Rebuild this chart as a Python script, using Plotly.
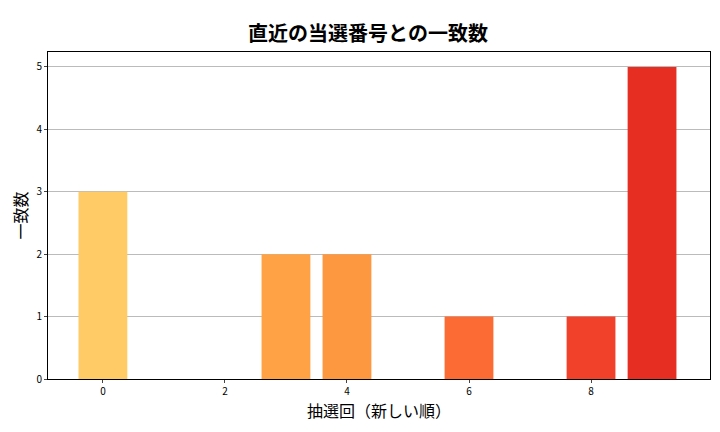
import plotly.graph_objects as go

draws = [0, 1, 2, 3, 4, 5, 6, 7, 8, 9]
matches = [3, 0, 0, 2, 2, 0, 1, 0, 1, 5]
colors = ["#fecb67", "#feb852", "#feab4a", "#fea245", "#fd9740", "#fd8139",
          "#fc6b33", "#f9552e", "#f1412a", "#e62f22"]
xticks = [0, 2, 4, 6, 8]
yticks = [0, 1, 2, 3, 4, 5]

font = "Noto Sans CJK JP"
fig = go.Figure(go.Bar(x=draws, y=matches, marker=dict(color=colors, line=dict(width=0)), width=0.8))
fig.update_layout(
    width=720, height=432, plot_bgcolor="white", paper_bgcolor="white",
    margin=dict(l=40, r=18, t=44, b=61), showlegend=False,
    font=dict(family=font, color="black"),
    title=dict(text="<b>直近の当選番号との一致数</b>", x=0.5, xanchor="center", y=0.955,
               font=dict(size=20, family=font)),
)
fig.update_xaxes(range=[-0.9, 9.95], tickvals=xticks, ticks="outside", ticklen=3,
                 tickfont=dict(size=10), showline=True, linecolor="black", mirror=True,
                 showgrid=False, zeroline=False, automargin=False,
                 title=dict(text="抽選回（新しい順）", font=dict(size=16), standoff=4))
fig.update_yaxes(range=[0, 5.24], tickvals=yticks, ticks="outside", ticklen=3,
                 tickfont=dict(size=10), showline=True, linecolor="black", mirror=True,
                 showgrid=True, gridcolor="#bbbbbb", zeroline=False, automargin=False,
                 title=dict(text="一致数", font=dict(size=16), standoff=6))
fig.write_html("out.html")
